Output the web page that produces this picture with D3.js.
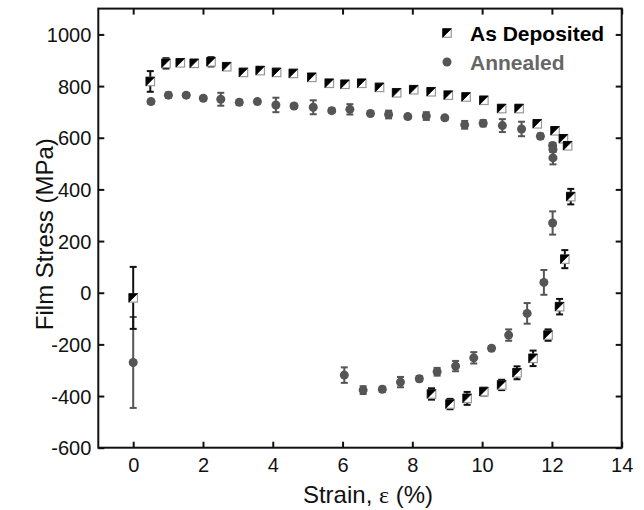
<!DOCTYPE html>
<html>
<head>
<meta charset="utf-8">
<script src="https://cdn.jsdelivr.net/npm/d3@7"></script>
<style>
  html, body { margin: 0; padding: 0; background: #fff; }
  svg { display: block; font-family: "Liberation Sans", Arial, sans-serif; }
</style>
</head>
<body>
<svg id="chart" width="644" height="510"></svg>
<script>
// ---- Data ----
const seriesNames = ["As Deposited", "Annealed"];
const xTicks = [0, 2, 4, 6, 8, 10, 12, 14];
const yTicks = [-600, -400, -200, 0, 200, 400, 600, 800, 1000];

const depStrain = [0, 0.49, 0.94, 1.35, 1.75, 2.23, 2.68, 3.16, 3.64, 4.11, 4.59, 5.12, 5.62, 6.07, 6.55, 7.06, 7.55, 8.04, 8.54, 9.03, 9.54, 10.05, 10.56, 11.06, 11.58, 12.09, 12.33, 12.45, 12.54, 12.37, 12.22, 11.89, 11.46, 11.0, 10.56, 10.05, 9.57, 9.08, 8.55];
const depStress = [-20, 818, 888, 890, 888, 894, 875, 853, 860, 853, 849, 834, 811, 807, 811, 795, 774, 786, 778, 765, 758, 745, 713, 713, 654, 627, 596, 569, 372, 130, -54, -164, -254, -310, -357, -383, -409, -431, -392];
const depErr = [120, 40, 20, 12, 12, 18, 10, 10, 10, 10, 10, 10, 10, 10, 10, 10, 10, 10, 10, 10, 10, 10, 10, 10, 10, 10, 10, 10, 30, 35, 30, 22, 30, 25, 20, 15, 25, 20, 22];

const annStrain = [0, 0.51, 1.01, 1.52, 2.01, 2.51, 3.04, 3.56, 4.09, 4.61, 5.16, 5.69, 6.21, 6.8, 7.32, 7.87, 8.4, 8.93, 9.5, 10.03, 10.58, 11.13, 11.67, 12.02, 12.03, 12.03, 12.02, 11.77, 11.29, 10.76, 10.27, 9.76, 9.24, 8.71, 8.2, 7.66, 7.14, 6.59, 6.05];
const annStress = [-270, 740, 765, 765, 753, 749, 737, 740, 727, 723, 718, 705, 710, 694, 690, 682, 684, 677, 650, 656, 647, 634, 606, 570, 555, 522, 270, 40, -80, -164, -215, -252, -284, -306, -333, -346, -374, -377, -319];
const annErr = [176, 8, 10, 8, 8, 25, 10, 8, 28, 8, 27, 8, 20, 8, 15, 8, 15, 8, 15, 12, 25, 28, 10, 10, 10, 25, 45, 48, 40, 22, 8, 22, 20, 15, 10, 20, 10, 15, 30];

// ---- Layout ----
const svg = d3.select("#chart");
const margin = { left: 98.3, right: 22.3, top: 8.6, bottom: 62.3 };
const W = 644, H = 510;
const x = d3.scaleLinear().domain([-1, 14]).range([margin.left, W - margin.right]);
const y = d3.scaleLinear().domain([-600, 1100]).range([H - margin.bottom, margin.top]);

const depData = depStrain.map((d, i) => ({ x: d, y: depStress[i], e: depErr[i] }));
const annData = annStrain.map((d, i) => ({ x: d, y: annStress[i], e: annErr[i] }));

const fmt = d => String(d); // plain hyphen-minus, no thousands separator

// Axes (inward ticks, mirrored)
const tickLen = 6;
const gx = svg.append("g").attr("transform", `translate(0,${y.range()[0]})`)
  .call(d3.axisBottom(x).tickValues(xTicks).tickSize(-tickLen).tickPadding(10).tickFormat(fmt));
const gxTop = svg.append("g").attr("transform", `translate(0,${y.range()[1]})`)
  .call(d3.axisTop(x).tickValues(xTicks).tickSize(-tickLen).tickFormat(""));
const gy = svg.append("g").attr("transform", `translate(${x.range()[0]},0)`)
  .call(d3.axisLeft(y).tickValues(yTicks).tickSize(-tickLen).tickPadding(7).tickFormat(fmt));
const gyR = svg.append("g").attr("transform", `translate(${x.range()[1]},0)`)
  .call(d3.axisRight(y).tickValues(yTicks).tickSize(-tickLen).tickFormat(""));

[gx, gxTop, gy, gyR].forEach(g => {
  g.select(".domain").remove();
  g.selectAll(".tick line").attr("stroke", "#111").attr("stroke-width", 2);
  g.selectAll(".tick text").attr("fill", "#111").style("font-size", "20px")
    .style("font-family", "'Liberation Sans', Arial, sans-serif");
});
gy.selectAll(".tick text").attr("dy", "0.36em");

// Frame
svg.append("rect")
  .attr("x", x.range()[0]).attr("y", y.range()[1])
  .attr("width", x.range()[1] - x.range()[0])
  .attr("height", y.range()[0] - y.range()[1])
  .attr("fill", "none").attr("stroke", "#111").attr("stroke-width", 2);

// Axis titles
const xt = svg.append("text")
  .attr("x", 368)
  .attr("y", 503)
  .attr("text-anchor", "middle")
  .style("font-size", "24px").attr("fill", "#111");
xt.append("tspan").text("Strain, ");
xt.append("tspan").style("font-family", "'Liberation Serif', 'Times New Roman', serif").text("ε");
xt.append("tspan").text(" (%)");

svg.append("text")
  .attr("transform", `translate(53,${(y.range()[0] + y.range()[1]) / 2 + 6}) rotate(-90)`)
  .attr("text-anchor", "middle")
  .style("font-size", "24px").attr("fill", "#111")
  .text("Film Stress (MPa)");

// Error bars helper
function errorBars(data, color, width) {
  const g = svg.append("g").attr("stroke", color).attr("stroke-width", width).attr("fill", "none");
  const cap = 3.5;
  data.forEach(d => {
    const cx = x(d.x), y1 = y(d.y + d.e), y2 = y(d.y - d.e);
    g.append("line").attr("x1", cx).attr("x2", cx).attr("y1", y1).attr("y2", y2);
    g.append("line").attr("x1", cx - cap).attr("x2", cx + cap).attr("y1", y1).attr("y2", y1);
    g.append("line").attr("x1", cx - cap).attr("x2", cx + cap).attr("y1", y2).attr("y2", y2);
  });
}

const annColor = "#555555";

// Annealed series
errorBars(annData, annColor, 2);
svg.append("g").selectAll("circle").data(annData).join("circle")
  .attr("cx", d => x(d.x)).attr("cy", d => y(d.y)).attr("r", 4.5)
  .attr("fill", annColor);

// As Deposited series
errorBars(depData, "#111", 2);
function halfSquare(g, cx, cy, s) {
  const h = s / 2;
  g.append("rect").attr("x", cx - h).attr("y", cy - h).attr("width", s).attr("height", s)
    .attr("fill", "#fff").attr("stroke", "#999").attr("stroke-width", 1.2);
  g.append("path")
    .attr("d", `M${cx - h},${cy - h}L${cx + h},${cy - h}L${cx - h},${cy + h}Z`)
    .attr("fill", "#000").attr("stroke", "#000").attr("stroke-width", 0.8);
}
const gDep = svg.append("g");
depData.forEach(d => halfSquare(gDep, x(d.x), y(d.y), 8.5));

// Legend
const leg = svg.append("g");
halfSquare(leg, 447, 33, 8.5);
leg.append("text").attr("x", 470).attr("y", 33).attr("dy", "0.36em")
  .style("font-size", "21px").style("font-weight", "bold").attr("fill", "#000")
  .text(seriesNames[0]);
leg.append("circle").attr("cx", 447).attr("cy", 62).attr("r", 4.5).attr("fill", annColor);
leg.append("text").attr("x", 470).attr("y", 62).attr("dy", "0.36em")
  .style("font-size", "21px").style("font-weight", "bold").attr("fill", "#666")
  .text(seriesNames[1]);
</script>
</body>
</html>
